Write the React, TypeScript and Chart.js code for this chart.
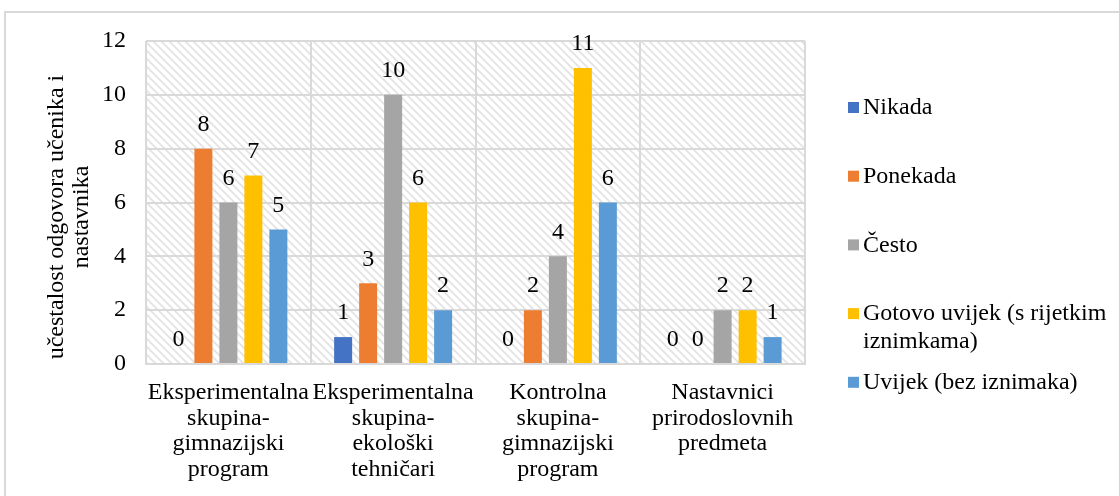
import { useEffect, useRef } from "react";
import { Chart, registerables } from "chart.js";

Chart.register(...registerables);

const categories: string[][] = [
  ["Eksperimentalna", "skupina-", "gimnazijski", "program"],
  ["Eksperimentalna", "skupina-", "ekološki", "tehničari"],
  ["Kontrolna", "skupina-", "gimnazijski", "program"],
  ["Nastavnici", "prirodoslovnih", "predmeta"],
];
const seriesNames = [
  "Nikada",
  "Ponekada",
  "Često",
  "Gotovo uvijek (s rijetkim iznimkama)",
  "Uvijek (bez iznimaka)",
];
const nikada = [0, 1, 0, 0];
const ponekada = [8, 3, 2, 0];
const cesto = [6, 10, 4, 2];
const gotovoUvijek = [7, 6, 11, 2];
const uvijek = [5, 2, 6, 1];
const seriesColors = ["#4472C4", "#ED7D31", "#A5A5A5", "#FFC000", "#5B9BD5"];
const yMin = 0;
const yMax = 12;
const yStep = 2;
const yTitle = ["učestalost odgovora učenika i", "nastavnika"];

const FONT = '"Liberation Serif", "Times New Roman", serif';
const TEXT = "#000000";
const GRID = "#d9d9d9";

function wrap(ctx: CanvasRenderingContext2D, text: string, maxW: number): string[] {
  const words = text.split(" ");
  const lines: string[] = [];
  let cur = "";
  for (const w of words) {
    const test = cur ? cur + " " + w : w;
    if (ctx.measureText(test).width > maxW && cur) {
      lines.push(cur);
      cur = w;
    } else cur = test;
  }
  if (cur) lines.push(cur);
  return lines;
}

const decorPlugin = {
  id: "decor",
  beforeDraw(chart: any) {
    const { ctx, chartArea: a } = chart;
    ctx.save();
    ctx.fillStyle = "#ffffff";
    ctx.fillRect(0, 0, chart.width, chart.height);
    ctx.fillStyle = GRID;
    ctx.fillRect(4, 11, chart.width, 2);
    ctx.fillRect(4, 11, 2, chart.height);
    const tile = document.createElement("canvas");
    tile.width = 8;
    tile.height = 8;
    const t = tile.getContext("2d")!;
    t.strokeStyle = "#e3e3e3";
    t.lineWidth = 1.8;
    t.beginPath();
    t.moveTo(-2, -2);
    t.lineTo(10, 10);
    t.moveTo(-2, 6);
    t.lineTo(2, 10);
    t.moveTo(6, -2);
    t.lineTo(10, 2);
    t.stroke();
    const pat = ctx.createPattern(tile, "repeat");
    if (pat) {
      ctx.fillStyle = pat;
      ctx.fillRect(a.left, a.top, a.right - a.left, a.bottom - a.top);
    }
    // y axis title
    ctx.fillStyle = TEXT;
    ctx.font = `24px ${FONT}`;
    ctx.textAlign = "center";
    ctx.textBaseline = "middle";
    ctx.translate(57, 217);
    ctx.rotate(-Math.PI / 2);
    yTitle.forEach((line, i) => ctx.fillText(line, 0, i * 25));
    ctx.restore();
  },
  afterDatasetsDraw(chart: any) {
    const { ctx } = chart;
    ctx.save();
    ctx.fillStyle = TEXT;
    ctx.font = `24px ${FONT}`;
    ctx.textAlign = "center";
    ctx.textBaseline = "middle";
    chart.data.datasets.forEach((ds: any, i: number) => {
      const meta = chart.getDatasetMeta(i);
      meta.data.forEach((el: any, j: number) => {
        ctx.fillText(String(ds.data[j]), el.x, el.y - 24);
      });
    });
    ctx.restore();
  },
  afterDraw(chart: any) {
    const { ctx } = chart;
    ctx.save();
    ctx.font = `24px ${FONT}`;
    ctx.textBaseline = "middle";
    ctx.textAlign = "left";
    chart.data.datasets.forEach((ds: any, i: number) => {
      const y = 108 + 68.7 * i;
      ctx.fillStyle = ds.backgroundColor;
      ctx.fillRect(848, y - 6, 11, 11);
      ctx.fillStyle = TEXT;
      const lines = wrap(ctx, ds.label, 250);
      lines.forEach((ln, k) => ctx.fillText(ln, 863, y + k * 28));
    });
    ctx.restore();
  },
};

export default function App() {
  const ref = useRef<HTMLCanvasElement>(null);
  useEffect(() => {
    if (!ref.current) return;
    const seriesData = [nikada, ponekada, cesto, gotovoUvijek, uvijek];
    const chart = new Chart(ref.current, {
      type: "bar",
      data: {
        labels: categories,
        datasets: seriesNames.map((name, i) => ({
          label: name,
          data: seriesData[i],
          backgroundColor: seriesColors[i],
          borderWidth: 0,
          categoryPercentage: 0.7587,
          barPercentage: 0.72,
        })),
      },
      options: {
        responsive: false,
        animation: false,
        devicePixelRatio: 1,
        layout: { padding: { left: 0, top: 41, right: 314, bottom: 0 } },
        plugins: {
          legend: { display: false },
          tooltip: { enabled: false },
        },
        scales: {
          x: {
            grid: { color: GRID, lineWidth: 2, drawTicks: false, offset: true },
            border: { color: GRID, width: 2 },
            ticks: {
              color: TEXT,
              font: { family: FONT, size: 24, lineHeight: "25.5px" },
              padding: 16,
              maxRotation: 0,
              minRotation: 0,
              autoSkip: false,
            },
            afterFit: (s: any) => {
              s.height = 132;
            },
          },
          y: {
            min: yMin,
            max: yMax,
            grid: { color: GRID, lineWidth: 2, drawTicks: false },
            border: { display: false },
            ticks: {
              stepSize: yStep,
              color: TEXT,
              font: { family: FONT, size: 24 },
              padding: 20,
            },
            afterFit: (s: any) => {
              s.width = 146;
            },
          },
        },
      },
      plugins: [decorPlugin],
    } as any);
    return () => chart.destroy();
  }, []);
  return (
    <div style={{ position: "fixed", left: 0, top: 0, width: 1119, height: 496, background: "#fff" }}>
      <canvas ref={ref} width={1119} height={496} style={{ display: "block" }} />
    </div>
  );
}
